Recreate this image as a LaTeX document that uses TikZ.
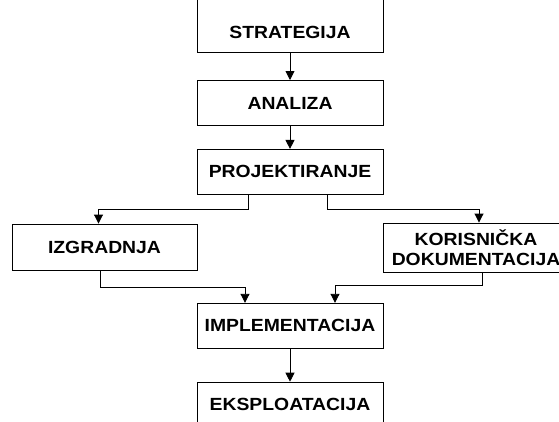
\documentclass[tikz,border=0pt]{standalone}
\usepackage{fontspec}
\setmainfont{Liberation Sans}[FakeStretch=1.1]
\usetikzlibrary{arrows.meta,positioning}

\begin{document}
\begin{tikzpicture}[
  x=1pt, y=-1pt,
  node distance=23pt,
  box/.style={draw, line width=0.9pt, align=center, minimum width=186pt, minimum height=45pt, inner sep=2pt, font=\fontsize{17.6}{20}\selectfont\bfseries},
  arr/.style={-{Triangle[length=9pt,width=9pt]}, line width=0.9pt}
]
  \clip (0,0) rectangle (559,421);
  \node[box, minimum height=70pt, text height=44pt, text depth=2pt, anchor=south] (strategija) at (290,53) {STRATEGIJA};
  \node[box, below=27pt of strategija] (analiza) {ANALIZA};
  \node[box, below=of analiza] (projektiranje) {PROJEKTIRANJE};
  \node[box, minimum width=185pt, minimum height=46pt] (izgradnja) at (104.5,247) {IZGRADNJA};
  \node[box, minimum height=49pt] (dokumentacija) at (476,247.5) {KORISNIČKA\\DOKUMENTACIJA};
  \node[box, below=108pt of projektiranje] (implementacija) {IMPLEMENTACIJA};
  \node[box, below=33pt of implementacija] (eksploatacija) {EKSPLOATACIJA};
  \draw[arr] (strategija) -- (analiza);
  \draw[arr] (analiza) -- (projektiranje);
  \draw[arr] ([xshift=-42pt]projektiranje.south) -- ++(0,15) -| ([xshift=-6pt]izgradnja.north);
  \draw[arr] ([xshift=37pt]projektiranje.south) -- ++(0,15) -| ([xshift=3pt]dokumentacija.north);
  \draw[arr] ([xshift=-4.5pt]izgradnja.south) -- ++(0,17) -| ([xshift=-45pt]implementacija.north);
  \draw[arr] ([xshift=6pt]dokumentacija.south) -- ++(0,13) -| ([xshift=45pt]implementacija.north);
  \draw[arr] (implementacija) -- (eksploatacija);
\end{tikzpicture}
\end{document}
